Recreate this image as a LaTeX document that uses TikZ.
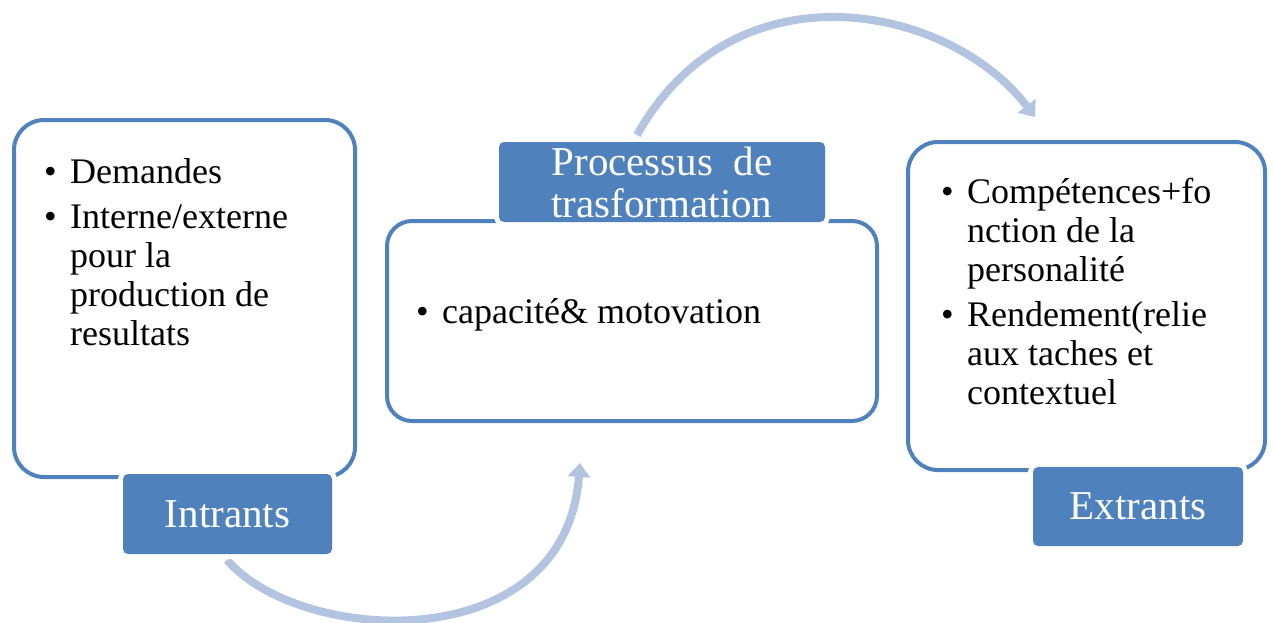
\documentclass[tikz,border=0pt]{standalone}
\usepackage{fontspec}
\setmainfont{Liberation Serif}
\usetikzlibrary{arrows.meta}
\definecolor{boxblue}{RGB}{79,129,189}
\definecolor{flowblue}{RGB}{179,196,224}
\newcommand{\itemtext}{\fontsize{36}{39}\selectfont}
\newcommand{\tagtext}{\fontsize{41}{44}\selectfont}
\begin{document}
\begin{tikzpicture}[x=1pt,y=-1pt,
  panel/.style={draw=boxblue, line width=4pt, fill=white, rounded corners=30pt, inner sep=0pt},
  tag/.style={fill=boxblue, rounded corners=5pt, text=white, inner sep=0pt,
    preaction={draw=white, line width=10pt}, font=\tagtext, align=center},
  flow/.style={draw=flowblue, line width=8pt, -{Triangle[length=14pt,width=22pt]}},
  lines/.style={anchor=base west, inner sep=0pt, font=\itemtext}]
\useasboundingbox (0,0) rectangle (1273,622);

% curved arrows between the stages
\coordinate (f1s) at (227,560);
\coordinate (f1e) at (580,463);
\coordinate (f2s) at (637,135);
\coordinate (f2e) at (1035,117);
\draw[flow] (f1s) .. controls (300,645) and (565,660) .. (f1e);
\draw[flow] (f2s) .. controls (735,-40) and (950,5) .. (f2e);

% stage panels
\node[panel, minimum width=341pt, minimum height=357pt] (inbox) at (184.5,298.5) {};
\node[panel, rounded corners=25pt, minimum width=490pt, minimum height=200pt] (procbox) at (632,321) {};
\node[panel, minimum width=357pt, minimum height=328pt] (outbox) at (1086.5,306) {};

% panel contents
\node[lines] (intext) at (44,183) {%
  \begin{tabular}[t]{@{}p{26pt}@{}l@{}}
  \textbullet & Demandes\\[6pt]
  \textbullet & Interne/externe\\
  & pour la\\
  & production de\\
  & resultats
  \end{tabular}};
\node[lines] (proctext) at (416,323) {%
  \begin{tabular}[t]{@{}p{26pt}@{}l@{}}
  \textbullet & capacité\& motovation
  \end{tabular}};
\node[lines] (outtext) at (941,203) {%
  \begin{tabular}[t]{@{}p{26pt}@{}l@{}}
  \textbullet & Compétences+fo\\
  & nction de la\\
  & personalité\\[6pt]
  \textbullet & Rendement(relie\\
  & aux taches et\\
  & contextuel
  \end{tabular}};

% stage labels
\node[tag, minimum width=209pt, minimum height=80pt] (intag) at (227.5,514) {Intrants};
\node[tag, minimum width=326pt, minimum height=80pt] (proctag) at (662,182) {Processus\ \ de\\[-2pt]trasformation};
\node[tag, minimum width=210pt, minimum height=79pt] (outtag) at (1138,506.5) {Extrants};
\end{tikzpicture}
\end{document}
